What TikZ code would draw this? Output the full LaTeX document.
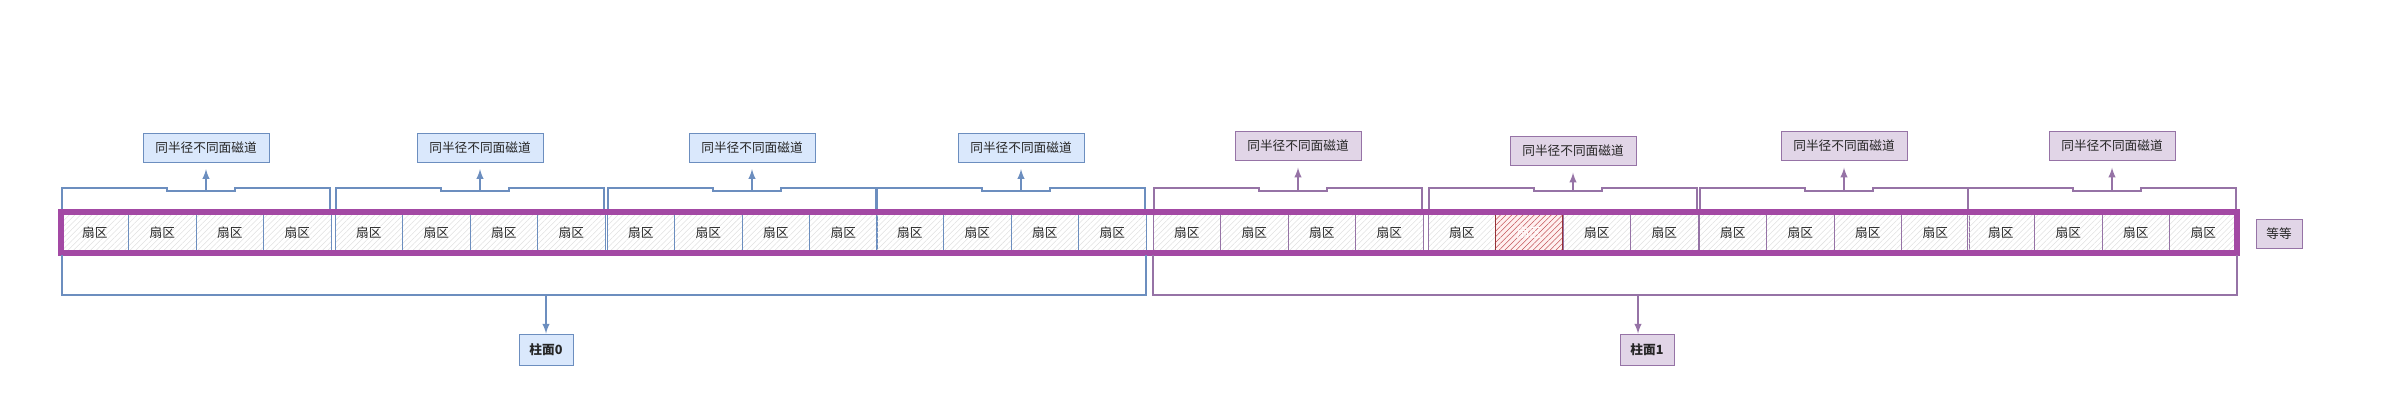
\documentclass[tikz,border=0pt]{standalone}
\usepackage{fontspec}
\setmainfont{Noto Sans CJK SC}
\usepackage{tikz}
\usetikzlibrary{arrows,patterns.meta}

\definecolor{blueline}{RGB}{108,142,191}
\definecolor{bluefill}{RGB}{218,232,252}
\definecolor{purpline}{RGB}{150,115,166}
\definecolor{purpfill}{RGB}{225,213,231}
\definecolor{ringcol}{RGB}{163,73,164}
\definecolor{badline}{RGB}{150,50,55}
\definecolor{badhatch}{RGB}{196,86,90}

\begin{document}
\begin{tikzpicture}[
            x=0.75pt,y=-0.75pt,
            every node/.style={font=\fontsize{9.5}{11}\selectfont,text=black!85},
            sector/.style={draw,rectangle,line width=.6pt,minimum width=50.6pt,minimum height=30.75pt,inner sep=0pt,
              pattern={Lines[angle=45,distance=3pt,line width=.4pt]},pattern color=black!12},
            badsector/.style={sector,draw=badline,line width=.9pt,pattern color=badhatch,preaction={fill=red!6},text=white},
            tag/.style={draw,rectangle,line width=.7pt,minimum width=94.5pt,minimum height=21.75pt,inner sep=0pt},
            lab/.style={tag,minimum width=40.5pt,minimum height=23.25pt,font=\fontsize{9.5}{11}\selectfont\bfseries},
            brace/.style={line width=.9pt},
            ring/.style={draw=ringcol,line width=4.5pt},
            link/.style={->,line width=1.5pt,>=latex}
          ]
          \useasboundingbox (0,0) rectangle (2390,403);

          %sectors, braces and track labels
          \foreach \g/\gx/\col/\fil/\ly in {1/61/blueline/bluefill/147.5,2/335/blueline/bluefill/147.5,
              3/607/blueline/bluefill/147.5,4/876/blueline/bluefill/147.5,5/1153/purpline/purpfill/146,
              6/1428/purpline/purpfill/151,7/1699/purpline/purpfill/146,8/1967/purpline/purpfill/146}{
            \foreach \c in {1,...,4}{
              \ifnum\g\c=62
                \node[badsector] (s\g\c) at ({\gx+(\c-.5)*67.5},232.5) {扇区};
              \else
                \node[sector,draw=\col] (s\g\c) at ({\gx+(\c-.5)*67.5},232.5) {扇区};
              \fi
            }
            \draw[brace,draw=\col] ({\gx+1},209) -- ({\gx+1},188) -- ({\gx+106},188) -- ({\gx+106},191)
              -- ({\gx+174},191) -- ({\gx+174},188) -- ({\gx+269},188) -- ({\gx+269},209);
            \node[tag,draw=\col,fill=\fil] (t\g) at ({\gx+145},\ly) {同半径不同面磁道};
            \coordinate (b\g) at ({\gx+145},191);
            \draw[link,draw=\col,shorten >=5pt] (b\g) -- (t\g);
          }
          \draw[ring] (61,212) rectangle (2237,253);

          %etc
          \node[tag,draw=purpline,fill=purpfill,minimum width=34.5pt] (etc) at (2279,233.5) {等等};

          %cylinders
          \draw[brace,draw=blueline] (62,255) -- (62,295) -- (1146,295) -- (1146,255);
          \draw[brace,draw=purpline] (1153,255) -- (1153,295) -- (2237,295) -- (2237,255);
          \node[lab,draw=blueline,fill=bluefill] (z0) at (546,349.5) {柱面0};
          \node[lab,draw=purpline,fill=purpfill] (z1) at (1647,349.5) {柱面1};
          \coordinate (c0) at (546,295);
          \coordinate (c1) at (1638,295);
          \draw[link,draw=blueline] (c0) -- (z0);
          \draw[link,draw=purpline] (c1) -- (c1 |- z1.north);
      \end{tikzpicture}
\end{document}
